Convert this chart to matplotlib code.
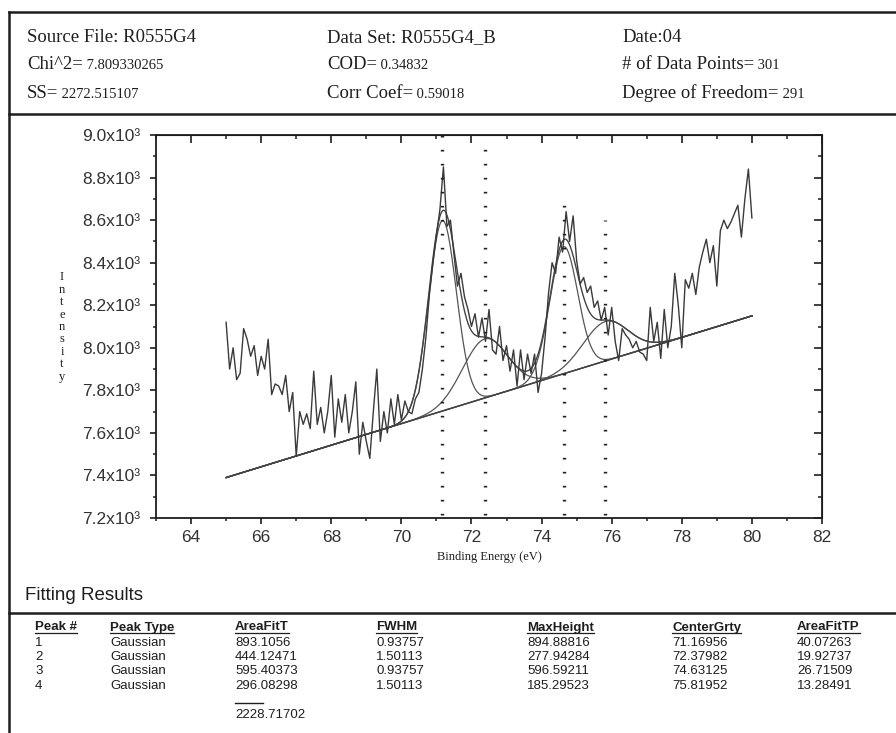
import numpy as np
import matplotlib
matplotlib.use('Agg')
import matplotlib.pyplot as plt
from matplotlib.lines import Line2D

# measured spectrum, 65.0 .. 80.0 eV every 0.1 eV
energy_start = 65.0
energy_step = 0.1
intensity = [
    8120, 7900, 8000, 7850, 7880, 8090, 8040, 7960, 8010, 7870,
    7960, 7900, 8040, 7780, 7830, 7820, 7780, 7870, 7700, 7790,
    7490, 7700, 7640, 7690, 7620, 7890, 7640, 7720, 7600, 7700,
    7870, 7580, 7760, 7650, 7780, 7600, 7700, 7840, 7500, 7650,
    7560, 7480, 7700, 7900, 7560, 7700, 7600, 7760, 7640, 7780,
    7660, 7750, 7700, 7690, 7760, 7790, 7900, 8050, 8250, 8400,
    8530, 8650, 8850, 8570, 8600, 8440, 8290, 8350, 8240, 8180,
    8100, 8160, 8050, 8140, 8030, 8180, 7990, 7970, 8100, 7940,
    8010, 7890, 7990, 7820, 7990, 7850, 7970, 7880, 7970, 7790,
    7880, 8050, 8260, 8400, 8350, 8520, 8450, 8640, 8500, 8620,
    8410, 8300, 8330, 8260, 8290, 8190, 8220, 8130, 8190, 8060,
    8190, 8030, 7940, 8090, 8060, 8040, 8000, 8030, 7980, 7970,
    7940, 8190, 8030, 8120, 7950, 8180, 8000, 8100, 8350, 8200,
    8000, 8320, 8280, 8350, 8250, 8380, 8450, 8510, 8400, 8480,
    8290, 8550, 8600, 8560, 8590, 8630, 8670, 8520, 8700, 8840,
    8610,
]

# linear background (end points)
baseline_x = [65.0, 80.0]
baseline_y = [7390, 8150]

# fitting results
peak_no = ['1', '2', '3', '4']
peak_type = ['Gaussian', 'Gaussian', 'Gaussian', 'Gaussian']
area_fit = ['893.1056', '444.12471', '595.40373', '296.08298']
fwhm = [0.93757, 1.50113, 0.93757, 1.50113]
max_height = [894.88816, 277.94284, 596.59211, 185.29523]
center = [71.16956, 72.37982, 74.63125, 75.81952]
area_fit_tp = ['40.07263', '19.92737', '26.71509', '13.28491']
area_total = '2228.71702'
marker_top = [9000, 8990, 8720, 8600]

W, H = 896, 733
fig = plt.figure(figsize=(W / 100, H / 100), dpi=100)
ink = '#1e1e1e'


def fx(px):
    return px / W


def fy(py):
    return 1 - py / H


# ---- frame of the report page
for seg in [([9, 9], [12, H]), ([9, W], [12, 12]), ([9, W], [114, 114]), ([9, W], [613, 613])]:
    fig.add_artist(Line2D([fx(v) for v in seg[0]], [fy(v) for v in seg[1]],
                          transform=fig.transFigure, color=ink, lw=1.8))

renderer = fig.canvas.get_renderer()

# ---- header block
header = [
    (27, 42, 'Source File: R0555G4', ''),
    (27, 69, 'Chi^2=', ' 7.809330265'),
    (27, 98, 'SS=', ' 2272.515107'),
    (327, 42, 'Data Set: R0555G4_B', ''),
    (327, 69, 'COD=', ' 0.34832'),
    (327, 98, 'Corr Coef=', ' 0.59018'),
    (622, 42, 'Date:04', ''),
    (622, 69, '# of Data Points=', ' 301'),
    (622, 98, 'Degree of Freedom=', ' 291'),
]
for px, py, lab, val in header:
    t = fig.text(fx(px), fy(py), lab, family='Liberation Serif', fontsize=13.5,
                 color=ink, va='baseline', ha='left')
    if val:
        bb = t.get_window_extent(renderer)
        fig.text(bb.x1 / W, fy(py), val, family='Liberation Serif', fontsize=10.5,
                 color=ink, va='baseline', ha='left')

# ---- spectrum plot
ax = fig.add_axes([fx(156), fy(518), fx(822) - fx(156), fy(135) - fy(518)])
x = energy_start + energy_step * np.arange(len(intensity))
xs = np.linspace(baseline_x[0], baseline_x[1], 600)
bgs = np.interp(xs, baseline_x, baseline_y)

total = bgs.copy()
for c, w, h in zip(center, fwhm, max_height):
    s = w / (2 * np.sqrt(2 * np.log(2)))
    g = h * np.exp(-(xs - c) ** 2 / (2 * s ** 2))
    total += g
    ax.plot(xs, bgs + g, color='#555555', lw=0.9)
ax.plot(baseline_x, baseline_y, color='#444444', lw=1.0)
ax.plot(xs, total, color='#444444', lw=1.0)
ax.plot(x, intensity, color='#3a3a3a', lw=1.0)

for c, top in zip(center, marker_top):
    ax.vlines(c, 7215, top, color='#222222', lw=2.4, linestyles=[(0, (0.5, 3.7))])

ax.set_xlim(63, 82)
ax.set_ylim(7200, 9000)
ax.set_xticks(np.arange(64, 83, 2))
ax.set_xticks(np.arange(63, 83, 1), minor=True)
ax.set_yticks(np.arange(7200, 9001, 200))
ax.set_yticks(np.arange(7200, 9001, 100), minor=True)
ax.set_yticklabels(['%.1fx10³' % (v / 1000) for v in np.arange(7200, 9001, 200)])
for sp in ax.spines.values():
    sp.set_color(ink)
    sp.set_linewidth(1.3)
ax.tick_params(which='major', direction='out', length=4.5, width=1.2, color=ink,
               labelsize=12.5, labelcolor='#333333')
ax.tick_params(which='minor', direction='out', length=2.5, width=1.1, color=ink)
ax.tick_params(axis='y', which='major', pad=7)
ax.tick_params(axis='x', which='major', pad=4)
for lab in ax.get_xticklabels() + ax.get_yticklabels():
    lab.set_family('Liberation Sans')

top = ax.secondary_xaxis('top')
top.set_xticks(np.arange(64, 83, 2))
top.set_xticks(np.arange(63, 83, 1), minor=True)
top.tick_params(which='major', direction='in', length=5.5, width=1.2, color=ink, labeltop=False)
top.tick_params(which='minor', direction='in', length=3, width=1.1, color=ink)
right = ax.secondary_yaxis('right')
right.set_yticks(np.arange(7200, 9001, 200))
right.set_yticks(np.arange(7200, 9001, 100), minor=True)
right.tick_params(which='major', direction='in', length=5.5, width=1.2, color=ink, labelright=False)
right.tick_params(which='minor', direction='in', length=3, width=1.1, color=ink)

fig.text(fx(489), fy(557), 'Binding Energy (eV)', family='Liberation Serif', fontsize=9,
         color=ink, ha='center', va='center')
fig.text(fx(62), fy(327), '\n'.join('Intensity'), family='Liberation Serif', fontsize=9,
         color=ink, ha='center', va='center', linespacing=1.05)

# ---- fitting results table
fig.text(fx(25), fy(595), 'Fitting Results', family='Liberation Sans', fontsize=13.5,
         color=ink, ha='left', va='center')

col_x = [35, 110, 235, 376, 527, 672, 797]
col_head = ['Peak #', 'Peak Type', 'AreaFitT', 'FWHM', 'MaxHeight', 'CenterGrty', 'AreaFitTP']
columns = [peak_no, peak_type, area_fit,
           ['%.5f' % v for v in fwhm], ['%.5f' % v for v in max_height],
           ['%.5f' % v for v in center], area_fit_tp]
for cx, head, col in zip(col_x, col_head, columns):
    t = fig.text(fx(cx), fy(630.5), head, family='Liberation Sans', fontsize=9.5,
                 weight='bold', color=ink, ha='left', va='baseline')
    bb = t.get_window_extent(renderer)
    fig.add_artist(Line2D([bb.x0 / W, bb.x1 / W], [fy(632.5)] * 2,
                          transform=fig.transFigure, color=ink, lw=0.9))
    for i, v in enumerate(col):
        fig.text(fx(cx), fy(645.5 + 14.4 * i), v, family='Liberation Sans', fontsize=9.5,
                 color=ink, ha='left', va='baseline')

fig.add_artist(Line2D([fx(235), fx(263)], [fy(703), fy(703)],
                      transform=fig.transFigure, color=ink, lw=1.0))
fig.text(fx(235), fy(718), area_total, family='Liberation Sans', fontsize=9.5,
         color=ink, ha='left', va='baseline')

fig.savefig('out.png', dpi=100)
